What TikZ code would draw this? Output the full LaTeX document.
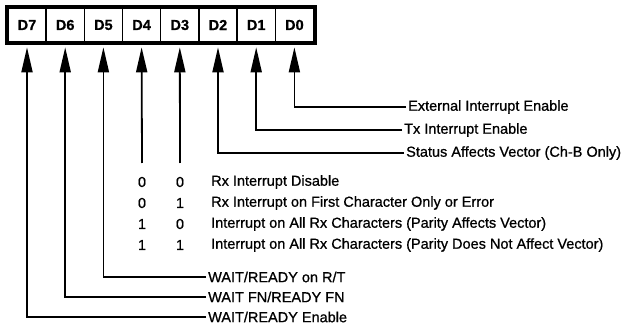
\documentclass[tikz,border=0pt]{standalone}
\usepackage{fontspec}
\setmainfont{Liberation Sans}[FakeBold=0.8]
\usetikzlibrary{arrows.meta,positioning,fit}

\begin{document}
\begin{tikzpicture}[x=1pt, y=-1pt, node distance=0pt,
  >={Triangle[length=25pt,width=11pt]},
  every node/.style={font=\fontsize{14.5}{16}\selectfont},
  bitcell/.style={draw, line width=1.3pt, minimum width=38.2pt, minimum height=34pt, inner sep=0pt, outer sep=0pt, font=\bfseries\fontsize{14.5}{16}\selectfont},
  lbl/.style={anchor=west, inner sep=2pt},
  wire/.style={line width=1.8pt, shorten >=2pt}]
  \useasboundingbox (0,0) rectangle (640,331);
  % register bits
  \node[bitcell] (d7) at (27,25) {D7};
  \node[bitcell,right=of d7] (d6) {D6};
  \node[bitcell,right=of d6] (d5) {D5};
  \node[bitcell,right=of d5] (d4) {D4};
  \node[bitcell,right=of d4] (d3) {D3};
  \node[bitcell,right=of d3] (d2) {D2};
  \node[bitcell,right=of d2] (d1) {D1};
  \node[bitcell,right=of d1] (d0) {D0};
  \node[draw, line width=2.6pt, fit=(d7)(d0), inner sep=2pt] (reg) {};
  % labels
  \node[lbl] (ext) at (406,107) {External Interrupt Enable};
  \node[lbl] (txie) at (402,130) {Tx Interrupt Enable};
  \node[lbl] (sav) at (404,153) {Status Affects Vector (Ch-B Only)};
  \node (r0a) at (142,182) {0}; \node (r0b) at (180,182) {0};
  \node (r1a) at (142,203) {0}; \node (r1b) at (180,203) {1};
  \node (r2a) at (142,224) {1}; \node (r2b) at (180,224) {0};
  \node (r3a) at (142,245) {1}; \node (r3b) at (180,245) {1};
  \node[lbl] (rx0) at (209,182) {Rx Interrupt Disable};
  \node[lbl] (rx1) at (209,203) {Rx Interrupt on First Character Only or Error};
  \node[lbl] (rx2) at (209,224) {Interrupt on All Rx Characters (Parity Affects Vector)};
  \node[lbl] (rx3) at (209,245) {Interrupt on All Rx Characters (Parity Does Not Affect Vector)};
  \node[lbl] (wrt) at (206,277) {WAIT/READY on R/T};
  \node[lbl] (wfn) at (206,297) {WAIT FN/READY FN};
  \node[lbl] (wen) at (206,317) {WAIT/READY Enable};
  \coordinate (e4) at (142,163);
  \coordinate (e3) at (180,163);
  % connectors
  \draw[wire,->] (ext.west) -| (d0 |- reg.south);
  \draw[wire,->] (txie.west) -| (d1 |- reg.south);
  \draw[wire,->] (sav.west) -| (d2 |- reg.south);
  \draw[wire,->] (e3) -- (d3 |- reg.south);
  \draw[wire,->] (e4) -- (d4 |- reg.south);
  \draw[wire,->] (wrt.west) -| (d5 |- reg.south);
  \draw[wire,->] (wfn.west) -| (d6 |- reg.south);
  \draw[wire,->] (wen.west) -| (d7 |- reg.south);
\end{tikzpicture}
\end{document}
